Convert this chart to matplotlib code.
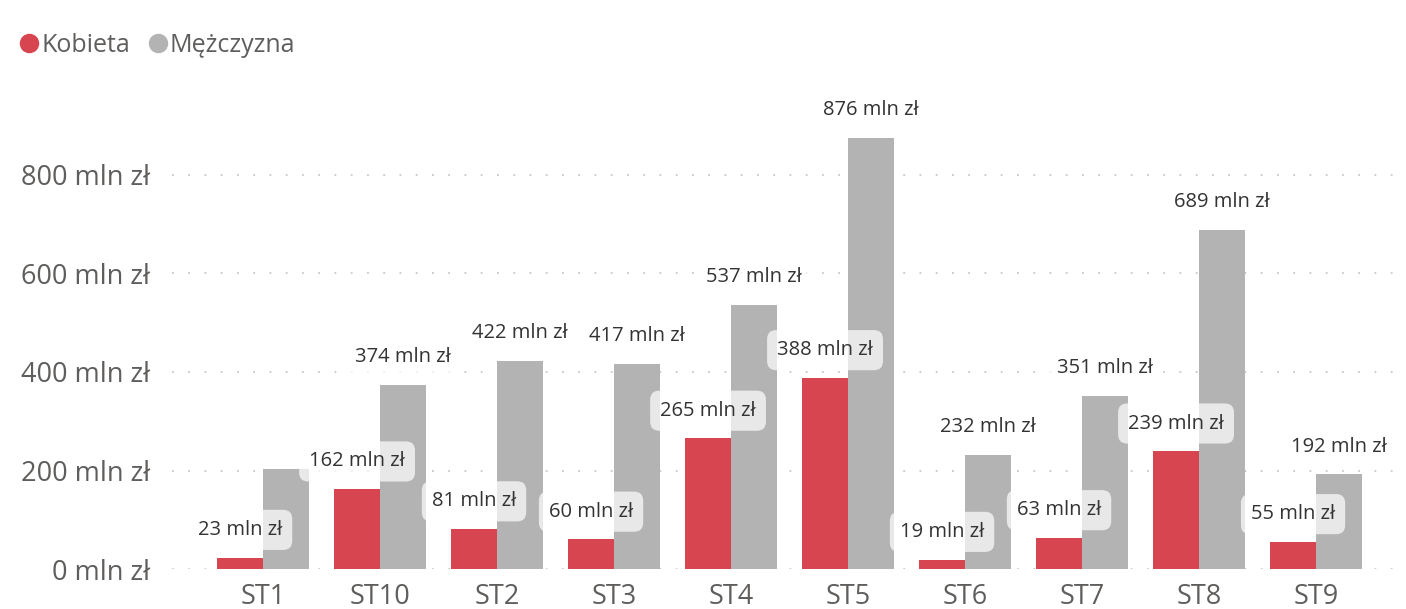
import numpy as np
import matplotlib.pyplot as plt
from matplotlib.lines import Line2D

plt.rcParams['font.family'] = ['Open Sans', 'DejaVu Sans']

categories = ['ST1', 'ST10', 'ST2', 'ST3', 'ST4', 'ST5', 'ST6', 'ST7', 'ST8', 'ST9']
kobieta = [23, 162, 81, 60, 265, 388, 19, 63, 239, 55]
mezczyzna = [203, 374, 422, 417, 537, 876, 232, 351, 689, 192]
# ST1 men's label is hidden in the original
show_m_label = [False, True, True, True, True, True, True, True, True, True]
yticks = [0, 200, 400, 600, 800]

RED = '#D64550'
GRAY = '#B3B3B3'
TXT = '#605E5C'

fig = plt.figure(figsize=(14.06, 6.09), dpi=100)
W, H = 1406, 609
# axes: left 172px, right 1397px, bottom y=569px, top y=90px
ax = fig.add_axes([172 / W, (H - 569) / H, (1397 - 172) / W, (569 - 90) / H])

x = np.arange(len(categories))
bw = 0.393
bars_k = ax.bar(x - bw / 2, kobieta, bw, color=RED, zorder=2)
bars_m = ax.bar(x + bw / 2, mezczyzna, bw, color=GRAY, zorder=2)

ax.set_xlim(-0.778, 9.692)
ax.set_ylim(0, (569 - 90) / 0.4925)

ax.set_yticks(yticks)
ax.set_yticklabels([f'{v} mln zł' for v in yticks])
ax.set_xticks(x)
ax.set_xticklabels(categories)
ax.tick_params(axis='both', length=0, labelsize=19.5, labelcolor=TXT)
ax.tick_params(axis='y', pad=16)
ax.tick_params(axis='x', pad=10)

ax.yaxis.grid(True, color='#C8C8C8', linestyle=(0, (1, 8)), linewidth=1.3, zorder=0)
ax.set_axisbelow(True)
for s in ax.spines.values():
    s.set_visible(False)

box = dict(boxstyle='round,pad=0.5,rounding_size=0.45', fc='white', ec='none', alpha=0.7)


def label(xpos, val):
    ax.annotate(f'{val} mln zł', (xpos, val), xytext=(0, 20), textcoords='offset points',
                ha='center', va='center', fontsize=14.5, color='#333333',
                bbox=box, zorder=5)


for i in range(len(categories)):
    label(x[i] - bw / 2, kobieta[i])
    if show_m_label[i]:
        label(x[i] + bw / 2, mezczyzna[i])

handles = [Line2D([], [], marker='o', linestyle='none', markersize=13, color=RED),
           Line2D([], [], marker='o', linestyle='none', markersize=13, color=GRAY)]
fig.legend(handles, ['Kobieta', 'Mężczyzna'], loc='center left',
           bbox_to_anchor=(0 / W, 1 - 45 / H), ncol=2, frameon=False,
           fontsize=18, labelcolor=TXT, handletextpad=-0.25, columnspacing=0.35,
           handlelength=1.5, borderaxespad=0)

fig.savefig('out.png', dpi=100)
